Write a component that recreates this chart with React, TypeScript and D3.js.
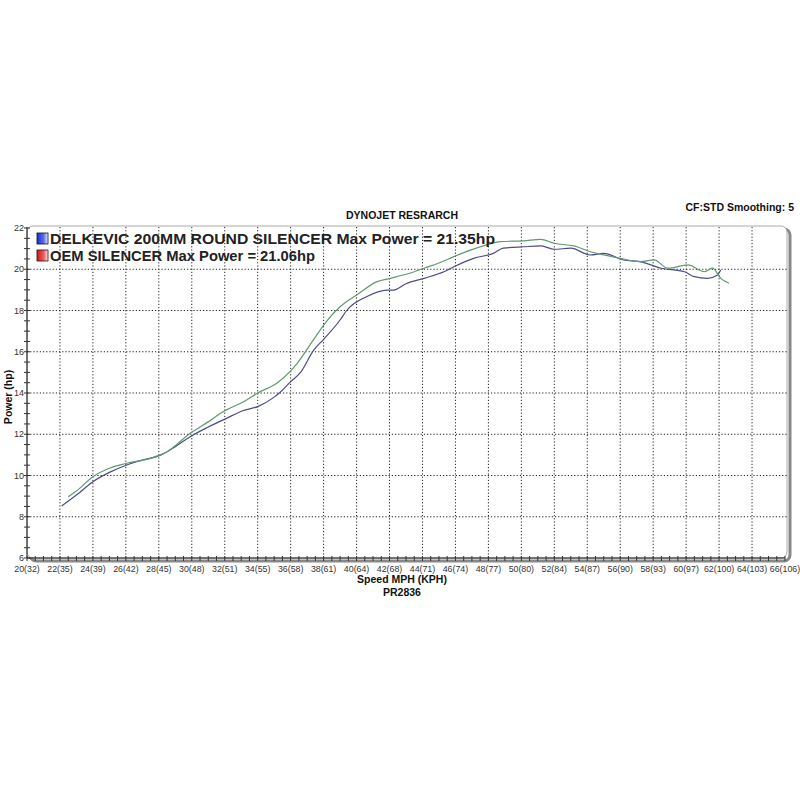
import React from "react";
import * as d3 from "d3";

const xTickValues = [20, 22, 24, 26, 28, 30, 32, 34, 36, 38, 40, 42, 44, 46, 48, 50, 52, 54, 56, 58, 60, 62, 64, 66];
const xTickLabels = ["20(32)", "22(35)", "24(39)", "26(42)", "28(45)", "30(48)", "32(51)", "34(55)", "36(58)", "38(61)", "40(64)", "42(68)", "44(71)", "46(74)", "48(77)", "50(80)", "52(84)", "54(87)", "56(90)", "58(93)", "60(97)", "62(100)", "64(103)", "66(106)"];
const yTickValues = [6, 8, 10, 12, 14, 16, 18, 20, 22];

const greenMph = [22.5, 23.0, 24.0, 25.0, 26.0, 27.5, 28.5, 29.9, 31.0, 31.9, 32.3, 33.2, 34.0, 35.2, 36.4, 37.4, 38.2, 39.0, 40.0, 41.25, 42.05, 43.5, 44.1, 45.0, 45.9, 47.0, 47.9, 48.7, 50.15, 51.17, 52.0, 53.2, 54.2, 55.0, 56.0, 57.2, 58.05, 58.9, 60.1, 61.1, 61.6, 62.1, 62.6];
const greenHp = [8.97, 9.25, 9.94, 10.35, 10.58, 10.83, 11.15, 12.05, 12.6, 13.09, 13.26, 13.6, 14.0, 14.5, 15.44, 16.6, 17.5, 18.18, 18.75, 19.4, 19.56, 19.88, 20.05, 20.3, 20.61, 20.95, 21.18, 21.34, 21.38, 21.45, 21.26, 21.13, 20.85, 20.7, 20.53, 20.37, 20.45, 20.05, 20.21, 19.88, 20.05, 19.56, 19.32];

const blueMph = [22.1, 23.0, 24.0, 25.0, 26.06, 27.0, 28.1, 29.0, 29.9, 31.0, 32.1, 33.1, 34.0, 35.0, 35.4, 36.0, 36.6, 37.4, 38.0, 39.0, 39.4, 40.6, 41.85, 42.25, 43.0, 44.1, 45.3, 45.9, 47.1, 48.3, 48.9, 50.15, 51.2, 52.0, 53.0, 54.2, 55.0, 56.2, 57.2, 58.5, 59.9, 60.5, 61.3, 61.9, 62.1];
const blueHp = [8.52, 9.05, 9.7, 10.15, 10.51, 10.75, 10.99, 11.4, 11.88, 12.35, 12.77, 13.14, 13.34, 13.8, 14.06, 14.55, 15.0, 16.08, 16.6, 17.54, 18.0, 18.67, 18.99, 18.99, 19.3, 19.56, 19.88, 20.12, 20.53, 20.77, 21.02, 21.09, 21.13, 20.97, 21.02, 20.69, 20.77, 20.45, 20.37, 20.05, 19.88, 19.64, 19.56, 19.72, 19.96];

const legendLabels = ["DELKEVIC 200MM ROUND SILENCER Max Power = 21.35hp", "OEM SILENCER Max Power = 21.06hp"];

const FONT = "Arial, 'Liberation Sans', sans-serif";

export default function App() {
  const left = 27, right = 785, top = 228, bottom = 558;
  const x = d3.scaleLinear().domain([20, 66]).range([left, right]);
  const y = d3.scaleLinear().domain([6, 22]).range([bottom, top]);

  const line = d3.line<[number, number]>()
    .x(d => x(d[0]))
    .y(d => y(d[1]))
    .curve(d3.curveMonotoneX);

  const green = greenMph.map((m, i) => [m, greenHp[i]] as [number, number]);
  const blue = blueMph.map((m, i) => [m, blueHp[i]] as [number, number]);

  const xMinor = d3.range(20, 66.01, 0.5);
  const yMinor = d3.range(6, 22.01, 0.5);

  return (
    <svg width={800} height={800} style={{ position: "absolute", left: 0, top: 0, background: "#fff" }} fontFamily={FONT}>
      <defs>
        <linearGradient id="gBlue" x1="0" x2="1" y1="0" y2="0">
          <stop offset="0" stopColor="#1a2fd0" />
          <stop offset="0.6" stopColor="#5a6cf0" />
          <stop offset="1" stopColor="#e8ecff" />
        </linearGradient>
        <linearGradient id="gRed" x1="0" x2="1" y1="0" y2="0">
          <stop offset="0" stopColor="#d01a1a" />
          <stop offset="0.6" stopColor="#f05a5a" />
          <stop offset="1" stopColor="#ffe8e8" />
        </linearGradient>
      </defs>
      <rect x={0} y={0} width={800} height={800} fill="#fff" />

      {/* titles */}
      <text x={402} y={219} textAnchor="middle" fontSize={10.5} fontWeight="bold" fill="#111">DYNOJET RESRARCH</text>
      <text x={794} y={211} textAnchor="end" fontSize={10.5} fontWeight="bold" fill="#111">CF:STD Smoothing: 5</text>

      {/* frame with shadow */}
      <rect x={left + 3} y={top + 1} width={right - left + 2} height={bottom - top + 2} rx={6} fill="none" stroke="#888" strokeWidth={3} />
      <rect x={left} y={top - 2} width={right - left + 2} height={bottom - top + 2} rx={6} fill="#fff" stroke="#aaa" strokeWidth={1} />

      {/* gridlines */}
      {xTickValues.slice(1, -1).map(v => (
        <line key={"gx" + v} x1={x(v)} x2={x(v)} y1={top - 1} y2={bottom} stroke="#222" strokeWidth={1} strokeDasharray="1.2,2" />
      ))}
      {yTickValues.slice(1, -1).map(v => (
        <line key={"gy" + v} x1={left} x2={right + 2} y1={y(v)} y2={y(v)} stroke="#222" strokeWidth={1} strokeDasharray="1.2,2" />
      ))}

      {/* axes */}
      <line x1={left} x2={left} y1={top - 1} y2={bottom} stroke="#111" strokeWidth={1} />
      <line x1={left} x2={right} y1={bottom} y2={bottom} stroke="#111" strokeWidth={1} />
      {yMinor.map(v => (
        <line key={"ym" + v} x1={left - 3} x2={left + 3} y1={y(v)} y2={y(v)} stroke="#333" strokeWidth={1} />
      ))}
      {xMinor.map(v => (
        <line key={"xm" + v} x1={x(v)} x2={x(v)} y1={bottom - 2} y2={bottom + 3} stroke="#333" strokeWidth={1} />
      ))}
      {yTickValues.map(v => (
        <text key={"yl" + v} x={left - 3} y={y(v) + 3} textAnchor="end" fontSize={9} fill="#333">{v}</text>
      ))}
      {xTickValues.map((v, i) => (
        <text key={"xl" + v} x={x(v)} y={572} textAnchor="middle" fontSize={8.8} fill="#333">{xTickLabels[i]}</text>
      ))}

      {/* axis titles */}
      <text x={402} y={583} textAnchor="middle" fontSize={10.5} fontWeight="bold" fill="#111">Speed MPH (KPH)</text>
      <text x={402} y={596} textAnchor="middle" fontSize={10.5} fontWeight="bold" fill="#111">PR2836</text>
      <text transform="translate(12,397) rotate(-90)" textAnchor="middle" fontSize={10.5} fontWeight="bold" fill="#111">Power (hp)</text>

      {/* series */}
      <path d={line(blue) || ""} fill="none" stroke="#4a4c8c" strokeWidth={1.2} />
      <path d={line(green) || ""} fill="none" stroke="#5f9a6e" strokeWidth={1.2} />

      {/* legend */}
      <rect x={37} y={233} width={11} height={11} fill="url(#gBlue)" stroke="#112" strokeWidth={0.8} />
      <rect x={37} y={250} width={11} height={11} fill="url(#gRed)" stroke="#211" strokeWidth={0.8} />
      <text x={50} y={244} fontSize={14} fontWeight="bold" fill="#222" textLength={445} lengthAdjust="spacingAndGlyphs">{legendLabels[0]}</text>
      <text x={50} y={261} fontSize={14} fontWeight="bold" fill="#222" textLength={265} lengthAdjust="spacingAndGlyphs">{legendLabels[1]}</text>
    </svg>
  );
}
